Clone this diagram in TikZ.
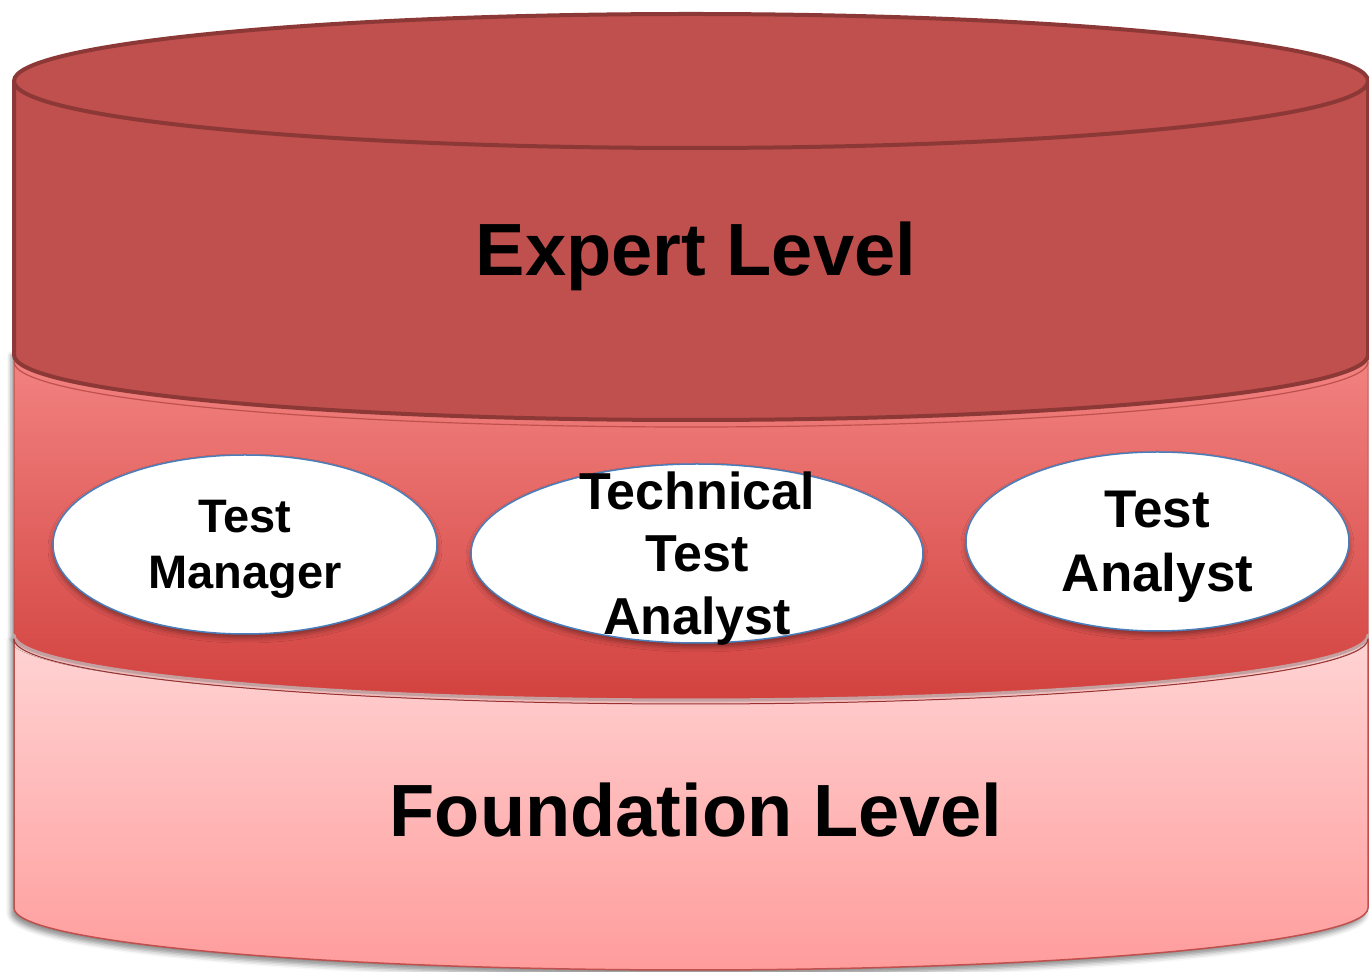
\documentclass[tikz,border=0pt]{standalone}
\usepackage{fontspec}
\setmainfont{Liberation Sans}
\usetikzlibrary{shapes.geometric,shadows.blur}
\definecolor{expertred}{HTML}{C0504D}
\definecolor{expertedge}{HTML}{8C3836}
\definecolor{midtop}{HTML}{F28381}
\definecolor{midbot}{HTML}{D2423F}
\definecolor{foundtop}{HTML}{FFD4D4}
\definecolor{foundbot}{HTML}{FF9C9C}
\definecolor{bevelgray}{HTML}{C4A0A0}
\definecolor{roleedge}{HTML}{4A7EBB}
\begin{document}
\begin{tikzpicture}[x=1pt, y=1pt, line join=round, line cap=round,
		role/.style={ellipse, draw=roleedge, line width=1.5pt, fill=white,
			inner sep=0pt, minimum height=179pt,
			blur shadow={shadow xshift=0pt, shadow yshift=-4pt,
				shadow blur radius=5pt, shadow opacity=40}},
		roletext/.style={align=center, inner sep=0pt},
		leveltext/.style={anchor=base, inner sep=0pt,
			font=\fontsize{74}{89}\selectfont\bfseries}]
	\useasboundingbox (0,0) rectangle (1369,972);
	% foundation level
	\path[draw=expertred, line width=1.5pt, top color=foundtop, bottom color=foundbot,
		blur shadow={shadow xshift=-3pt, shadow yshift=-5pt, shadow blur radius=5pt, shadow opacity=45}]
		(14,337) -- (14,64) arc[start angle=180, end angle=360, x radius=677, y radius=62]
		-- (1368,337) -- cycle;
	% middle band
	\path[draw=expertred, line width=1pt, top color=midtop, bottom color=midbot,
		blur shadow={shadow xshift=-3pt, shadow yshift=0pt, shadow blur radius=4pt, shadow opacity=40}]
		(14,617) -- (14,337) arc[start angle=180, end angle=360, x radius=677, y radius=65]
		-- (1368,617) -- cycle;
	\draw[bevelgray, line width=3pt] (14,337) arc[start angle=180, end angle=360, x radius=677, y radius=65];
	\draw[expertedge!90!red, line width=1pt] (14,333) arc[start angle=180, end angle=360, x radius=677, y radius=65];
	% expert level
	\path[fill=expertred, draw=expertedge, line width=4pt]
		(14,891) -- (14,617) arc[start angle=180, end angle=360, x radius=677, y radius=65]
		-- (1368,891) -- cycle;
	\draw[expertred, line width=1.2pt] (14,610) arc[start angle=180, end angle=360, x radius=677, y radius=65];
	\draw[fill=expertred, draw=expertedge, line width=4pt] (691,891) ellipse[x radius=677, y radius=67];
	\node[leveltext] (expert) at (696,696) {Expert Level};
	\node[leveltext] (foundation) at (696,135) {Foundation Level};
	% roles
	\foreach \nm/\x/\y/\w/\fs/\txt in {tm/245/427.5/384/47/{Test\\Manager},
		tta/697/418.5/452/52/{Technical\\Test\\Analyst},
		ta/1157.5/430.5/383/53/{Test\\Analyst}}{
		\pgfmathsetmacro{\lead}{1.2*\fs}
		\node[role, minimum width=\w pt] (\nm) at (\x,\y) {};
		\node[roletext, font=\fontsize{\fs}{\lead}\selectfont\bfseries, yshift=-5pt]
			(\nm-text) at (\nm) {\txt};}
\end{tikzpicture}
\end{document}
